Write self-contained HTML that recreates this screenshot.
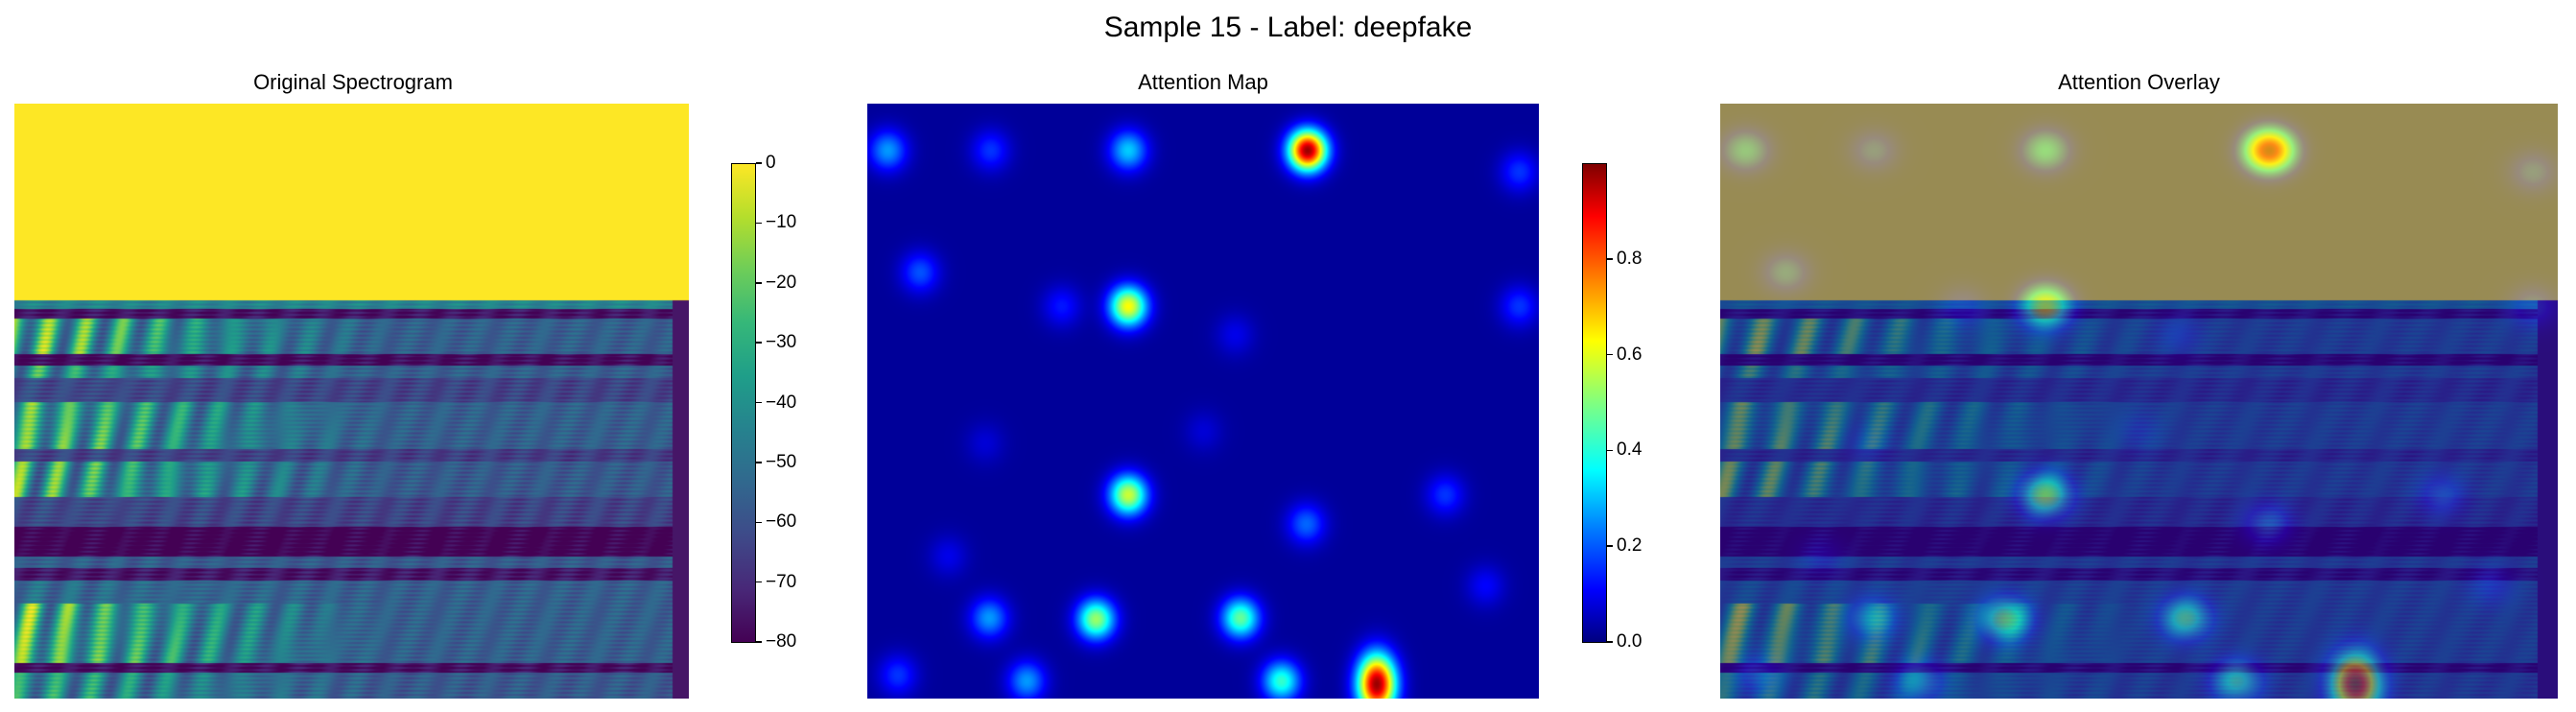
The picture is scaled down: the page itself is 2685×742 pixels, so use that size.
<!DOCTYPE html>
<html><head><meta charset="utf-8">
<style>
html,body{margin:0;padding:0;background:#fff;}
body{width:2685px;height:742px;position:relative;overflow:hidden;font-family:"Liberation Sans","DejaVu Sans",sans-serif;}
.t{position:absolute;color:#000;white-space:nowrap;}
canvas{position:absolute;}
.cb{position:absolute;border:1.5px solid #000;box-sizing:border-box;}
.tick{position:absolute;width:6px;height:1.5px;background:#000;}
.tl{position:absolute;font-size:19px;line-height:20px;}
</style></head><body>
<div class="t" style="left:0;width:2685px;text-align:center;top:12px;font-size:30px;">Sample 15 - Label: deepfake</div>
<div class="t" style="left:15px;width:706px;text-align:center;top:73px;font-size:22px;">Original Spectrogram</div>
<div class="t" style="left:904px;width:700px;text-align:center;top:73px;font-size:22px;">Attention Map</div>
<div class="t" style="left:1793px;width:873px;text-align:center;top:73px;font-size:22px;">Attention Overlay</div>
<canvas id="c1" width="703" height="620" style="left:15px;top:108px"></canvas>
<canvas id="c2" width="700" height="620" style="left:904px;top:108px"></canvas>
<canvas id="c3" width="873" height="620" style="left:1793px;top:108px"></canvas>
<div class="cb" id="cb1" style="left:762px;top:170px;width:26px;height:500px;"></div>
<div class="cb" id="cb2" style="left:1649px;top:170px;width:26px;height:500px;"></div>
<div id="ticks"></div>
<script>
// Colorbar ticks
const dbTicks=[0,-10,-20,-30,-40,-50,-60,-70,-80];
const attTicks=[0.0,0.2,0.4,0.6,0.8];
// Attention blobs: x fraction, y fraction, amplitude
const blobX=[0.655,0.03,0.183,0.388,0.97,0.078,0.388,0.289,0.547,0.97,0.388,0.653,0.86,0.175,0.5,0.92,0.12,0.34,0.181,0.555,0.237,0.616,0.758,0.045];
const blobY=[0.078,0.078,0.078,0.078,0.114,0.283,0.34,0.34,0.388,0.34,0.657,0.706,0.657,0.57,0.55,0.81,0.76,0.866,0.864,0.864,0.97,0.97,0.975,0.96];
const blobA=[0.95,0.25,0.15,0.3,0.15,0.18,0.6,0.12,0.08,0.15,0.55,0.2,0.15,0.06,0.06,0.1,0.08,0.5,0.25,0.45,0.25,0.4,0.95,0.15];
// Spectrogram bands: start fraction, end fraction, base level, stripe amplitude
const bandY0=[0,0.33,0.345,0.36,0.42,0.44,0.46,0.5,0.58,0.6,0.66,0.71,0.76,0.78,0.8,0.84,0.94,0.955];
const bandY1=[0.33,0.345,0.36,0.42,0.44,0.46,0.5,0.58,0.6,0.66,0.71,0.76,0.78,0.8,0.84,0.94,0.955,1.0];
const bandBase=[1.0,0.45,0.05,0.3,0.03,0.3,0.2,0.3,0.18,0.28,0.2,0.0,0.28,0.06,0.3,0.3,0.04,0.28];
const bandAmp=[0,0,0,0.65,0,0.45,0.05,0.6,0.05,0.6,0.05,0,0.05,0,0.1,0.65,0,0.45];

const VIR=[[68,1,84],[72,40,120],[62,74,137],[49,104,142],[38,130,142],[31,158,137],[53,183,121],[109,205,89],[180,222,44],[253,231,37]];
function vir(t){t=Math.max(0,Math.min(1,t));const p=t*9,i=Math.min(8,Math.floor(p)),f=p-i;return VIR[i].map((c,k)=>c+(VIR[i+1][k]-c)*f);}
function jet(t){t=Math.max(0,Math.min(1,t));const r=Math.min(4*t-1.5,-4*t+4.5),g=Math.min(4*t-0.5,-4*t+3.5),b=Math.min(4*t+0.5,-4*t+2.5);return [r,g,b].map(v=>255*Math.max(0,Math.min(1,v)));}
function spec(u,v){
  let i=0;while(i<bandY1.length-1&&v>bandY1[i])i++;
  if(i===0)return 1;
  if(u>0.975)return 0.06;
  let val=bandBase[i];
  const a=bandAmp[i]*Math.max(0,1-u/0.55);
  val+= a*(0.5+0.5*Math.cos(2*Math.PI*(u*18+v*3)));
  val+=0.06*Math.sin(v*900)*Math.sin(u*40)+0.04*Math.sin(u*130+v*50);
  return Math.max(0,Math.min(1,val));
}
function att(u,v){
  let s=0.025;
  for(let k=0;k<blobX.length;k++){
    const dx=(u-blobX[k])/0.02,dy=(v-blobY[k])/(k===22?0.035:0.024);
    s+=blobA[k]*Math.exp(-(dx*dx+dy*dy)/2);
  }
  return Math.min(1,s);
}
function draw(id,fn){
  const c=document.getElementById(id),ctx=c.getContext('2d'),W=c.width,H=c.height,img=ctx.createImageData(W,H);
  for(let y=0;y<H;y++)for(let x=0;x<W;x++){const col=fn(x/W,y/H),o=(y*W+x)*4;img.data[o]=col[0];img.data[o+1]=col[1];img.data[o+2]=col[2];img.data[o+3]=255;}
  ctx.putImageData(img,0,0);
}
draw('c1',(u,v)=>vir(spec(u,v)));
draw('c2',(u,v)=>jet(att(u,v)));
draw('c3',(u,v)=>{const a=vir(spec(u,v)),b=jet(att(u,v));return a.map((c,k)=>0.6*c+0.4*b[k]);});
document.getElementById('cb1').style.background='linear-gradient(to top,'+VIR.map(c=>'rgb('+c.join(',')+')').join(',')+')';
document.getElementById('cb2').style.background='linear-gradient(to top,#00007f,#0000ff 11%,#0080ff 24%,#00ffff 36%,#80ff80 50%,#ffff00 63%,#ff8000 76%,#ff0000 89%,#7f0000)';
const T=document.getElementById('ticks');
function addTick(left,top,label,name){
  const d=document.createElement('div');d.className='tick';d.style.left=left+'px';d.style.top=(top-0.75)+'px';
  
  
  T.appendChild(d);
  const l=document.createElement('div');l.className='tl';l.style.left=(left+10)+'px';l.style.top=(top-10)+'px';l.textContent=label;
  
  
  T.appendChild(l);
}
dbTicks.forEach(t=>addTick(788,170+(0-t)/80*499,t===0?'0':'\u2212'+Math.abs(t),'db'));
attTicks.forEach(t=>addTick(1675,669-t*499,t.toFixed(1),'attention'));
</script>
</body></html>
